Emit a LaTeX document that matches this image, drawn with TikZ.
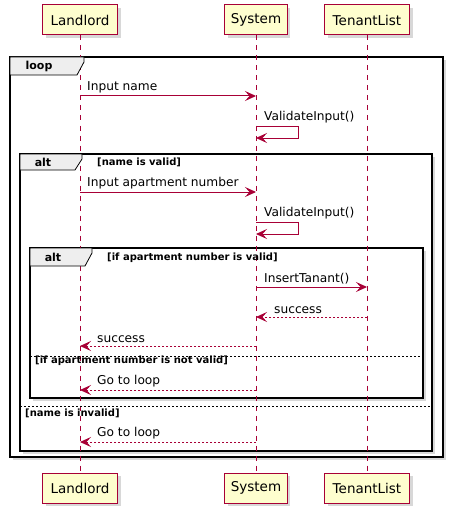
\documentclass[tikz,border=0pt]{standalone}
\usepackage{fontspec}
\setmainfont{DejaVu Sans}
\usetikzlibrary{arrows.meta,shadows}
\definecolor{pr}{HTML}{A80036}
\definecolor{pf}{HTML}{FEFECE}
\definecolor{tabf}{HTML}{EEEEEE}
\tikzset{
  shad/.style={drop shadow={shadow xshift=3pt,shadow yshift=-3pt,fill=black!30}},
  part/.style={draw=pr,fill=pf,line width=1pt,minimum height=30pt,inner xsep=6pt,
    font=\fontsize{13.5}{15}\selectfont,shad},
  life/.style={draw=pr,line width=0.7pt,dash pattern=on 5pt off 5pt},
  msg/.style={draw=pr,line width=1pt,-{Stealth[length=11pt,width=10pt,inset=4.5pt]}},
  ret/.style={msg,dash pattern=on 2pt off 2pt},
  mlabel/.style={anchor=south west,inner sep=0pt,font=\fontsize{12.2}{14}\selectfont},
  frm/.style={draw=black,line width=1.6pt,fill=white,shad},
  tabshape/.style={draw=black,line width=0.8pt,fill=tabf},
  tabtext/.style={font=\bfseries\fontsize{11}{13}\selectfont,inner sep=0pt},
  guard/.style={anchor=west,inner sep=0pt,font=\bfseries\fontsize{10}{12}\selectfont},
  sep/.style={draw=black,line width=0.6pt,dash pattern=on 2pt off 2pt}
}
\begin{document}
\begin{tikzpicture}[x=1pt,y=-1pt]
\useasboundingbox (0,0) rectangle (455,516);
% frames
\path[frm] (10,57) rectangle (443,457);
\path[frm] (20,154) rectangle (432,451);
\path[frm] (30,248) rectangle (423,398);
% participants
\node[part,minimum width=75pt] (L1) at (80,20) {Landlord};
\node[part,minimum width=62pt] (S1) at (256,20) {System};
\node[part,minimum width=85pt] (T1) at (367,20) {TenantList};
\node[part,minimum width=75pt] (L2) at (80,488) {Landlord};
\node[part,minimum width=62pt] (S2) at (256,488) {System};
\node[part,minimum width=85pt] (T2) at (367,488) {TenantList};
% lifelines
\draw[life] (L1.south) -- (L2.north);
\draw[life] (S1.south) -- (S2.north);
\draw[life] (T1.south) -- (T2.north);
% tabs
\filldraw[tabshape] (10,57) -- (84,57) -- (84,62) -- (77,75) -- (10,75) -- cycle;
\node[tabtext] (looplbl) at (39,66) {loop};
\filldraw[tabshape] (20,154) -- (82,154) -- (82,159) -- (75,170) -- (20,170) -- cycle;
\node[tabtext] (alt1lbl) at (43,162) {alt};
\node[guard] (g1) at (97,162) {[name is valid]};
\filldraw[tabshape] (30,248) -- (92,248) -- (92,253) -- (85,266) -- (30,266) -- cycle;
\node[tabtext] (alt2lbl) at (53,257) {alt};
\node[guard] (g2) at (107,258) {[if apartment number is valid]};
% separators
\draw[sep] (30,356) -- (423,356);
\node[guard] (g3) at (35,361) {[if apartment number is not valid]};
\draw[sep] (20,406) -- (432,406);
\node[guard] (g4) at (25,413) {[name is invalid]};
% messages
\draw[msg] (L1 |- 0,96) -- (S1 |- 0,96);
\node[mlabel] (m1) at (87,93) {Input name};
\draw[msg] (S1 |- 0,126) -- ++(42,0) -- ++(0,12) -- ++(-42,0);
\node[mlabel] (m2) at (264,123) {ValidateInput()};
\draw[msg] (L1 |- 0,192) -- (S1 |- 0,192);
\node[mlabel] (m3) at (87,189) {Input apartment number};
\draw[msg] (S1 |- 0,222) -- ++(42,0) -- ++(0,12) -- ++(-42,0);
\node[mlabel] (m4) at (264,219) {ValidateInput()};
\draw[msg] (S1 |- 0,287) -- (T1 |- 0,287);
\node[mlabel] (m5) at (264,284) {InsertTanant()};
\draw[ret] (T1 |- 0,317) -- (S1 |- 0,317);
\node[mlabel] (m6) at (274,314) {success};
\draw[ret] (S1 |- 0,346) -- (L1 |- 0,346);
\node[mlabel] (m7) at (97,343) {success};
\draw[ret] (S1 |- 0,390) -- (L1 |- 0,390);
\node[mlabel] (m8) at (97,387) {Go to loop};
\draw[ret] (S1 |- 0,442) -- (L1 |- 0,442);
\node[mlabel] (m9) at (97,439) {Go to loop};
\end{tikzpicture}
\end{document}
